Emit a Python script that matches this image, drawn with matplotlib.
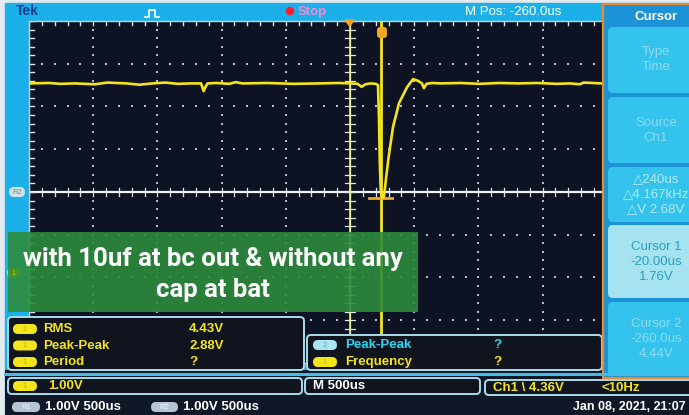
import matplotlib
matplotlib.use("Agg")
import matplotlib.pyplot as plt
from matplotlib.patches import Rectangle, FancyBboxPatch, Polygon

# --- scope settings ---
SEC_PER_DIV_US = 500.0
M_POS_US = -260.0
VOLT_PER_DIV = 1.0
CENTER_V = 1.9          # ch1 ground marker sits 1.9 div under the centre line
CURSOR1_US, CURSOR1_V = -20.0, 1.76
CURSOR2_US, CURSOR2_V = -260.0, 4.44

# --- ch1 trace (us, V) ---
TIME_US = [-2760, -2600, -2519, -2400, -2246, -2150, -2000, -1900, -1800, -1700,
           -1600, -1500, -1420, -1400, -1385, -1370, -1300, -1200, -1150, -1100,
           -900, -700, -500, -350, -260, -200, -170, -140, -100, -60,
           -42, -34, -28, -20, -10, 5, 20, 40, 75, 122,
           184, 231, 270, 300, 316, 335, 380, 450, 600, 750,
           900, 1050, 1200, 1350, 1450, 1530, 1560, 1700, 1900]
CH1_V = [4.44, 4.45, 4.43, 4.44, 4.42, 4.46, 4.44, 4.41, 4.44, 4.46,
         4.43, 4.44, 4.44, 4.26, 4.36, 4.44, 4.45, 4.43, 4.47, 4.44,
         4.45, 4.43, 4.44, 4.45, 4.44, 4.43, 4.36, 4.42, 4.44, 4.43,
         4.40, 3.60, 2.60, 1.90, 1.76, 1.80, 2.20, 2.70, 3.42, 3.98,
         4.35, 4.54, 4.50, 4.44, 4.33, 4.43, 4.45, 4.44, 4.45, 4.43,
         4.45, 4.44, 4.45, 4.43, 4.44, 4.42, 4.46, 4.44, 4.44]

# --- readouts ---
MEAS_ROWS = [("RMS", "4.43V"), ("Peak-Peak", "2.88V"), ("Period", "?")]
MEAS2_ROWS = [("2", "Peak-Peak", "?"), ("1", "Frequency", "?")]
MENU_TITLE = "Cursor"
MENU_ITEMS = [["Type", "Time"], ["Source", "Ch1"],
              ["\u25b3240us", "\u25b34.167kHz", "\u25b3V 2.68V"],
              ["Cursor 1", "-20.00us", "1.76V"],
              ["Cursor 2", "-260.0us", "4.44V"]]
NOTE_LINES = ["with 10uf at bc out & without any", "cap at bat"]

W, H = 689, 415
SCREEN = "#0d1322"
YEL = "#f4e41c"
CYAN_TXT = "#29d6f0"
FONT = ["Liberation Sans", "DejaVu Sans"]

fig = plt.figure(figsize=(W / 100, H / 100), dpi=100, facecolor="#e4eaee")


def px_axes(z):
    a = fig.add_axes([0, 0, 1, 1], zorder=z)
    a.set_xlim(0, W)
    a.set_ylim(H, 0)
    a.axis("off")
    a.patch.set_visible(False)
    return a


bg = px_axes(0)
bg.add_patch(Rectangle((5, 3), W, H, color="#1cb0ea"))

# scope graticule: 10 x 8 divisions
gl, gr, gt, gb = 29, 671, 21, 363
sc = fig.add_axes([gl / W, (H - gb) / H, (gr - gl) / W, (gb - gt) / H], zorder=1)
sc.set_facecolor(SCREEN)
t0 = M_POS_US - 5 * SEC_PER_DIV_US
v0 = CENTER_V - 4 * VOLT_PER_DIV
sc.set_xlim(t0, t0 + 10 * SEC_PER_DIV_US)
sc.set_ylim(v0, v0 + 8 * VOLT_PER_DIV)
sc.set_xticks([])
sc.set_yticks([])
for s in sc.spines.values():
    s.set_color("#c9d0d8")
    s.set_linewidth(1.0)

dot = "#b9bfc8"
minor_t = [t0 + i * SEC_PER_DIV_US / 5 for i in range(51)]
minor_v = [v0 + i * VOLT_PER_DIV / 5 for i in range(41)]
for k in range(1, 10):
    if k == 5:
        continue
    x = t0 + k * SEC_PER_DIV_US
    sc.plot([x] * len(minor_v), minor_v, ls="none", marker="s", ms=1.6, color=dot, mew=0)
for j in range(1, 8):
    if j == 4:
        continue
    y = v0 + j * VOLT_PER_DIV
    sc.plot(minor_t, [y] * len(minor_t), ls="none", marker="s", ms=1.6, color=dot, mew=0)

# centre axes with ticks, border ticks
sc.axhline(CENTER_V, color="#eef2f6", lw=1.6)
sc.axvline(M_POS_US, color="#dfe4ea", lw=1.2)
tk_v = 0.1 * VOLT_PER_DIV
tk_t = 0.1 * SEC_PER_DIV_US * 64 / 42.75 * 0.5
for x in minor_t:
    sc.plot([x, x], [CENTER_V - tk_v, CENTER_V + tk_v], color="#dfe4ea", lw=0.9)
    sc.plot([x, x], [v0 + 8 - tk_v, v0 + 8], color="#dfe4ea", lw=1.0)
for y in minor_v:
    sc.plot([M_POS_US - tk_t, M_POS_US + tk_t], [y, y], color="#dfe4ea", lw=0.9)
    sc.plot([t0, t0 + tk_t], [y, y], color="#dfe4ea", lw=1.0)

# cursors
sc.axvline(CURSOR2_US, color="#e9ec9a", lw=0.9, zorder=3)
sc.axvline(CURSOR1_US, color=YEL, lw=2.0, zorder=4)
sc.plot([CURSOR1_US - 90, CURSOR1_US + 90], [CURSOR1_V] * 2, color="#f0a826", lw=2, zorder=5)

# trace
sc.plot(TIME_US, CH1_V, color=YEL, lw=1.9, zorder=6, solid_joinstyle="round")

ov = px_axes(2)


def panel(x0, y0, x1, y1, fc="#0f141f", ec="#a9dcec"):
    ov.add_patch(FancyBboxPatch((x0, y0), x1 - x0, y1 - y0,
                                boxstyle="round,pad=0,rounding_size=4",
                                fc=fc, ec=ec, lw=1.4))


def pill(x0, x1, yc, fc, label, tc):
    ov.add_patch(FancyBboxPatch((x0, yc - 5), x1 - x0, 10,
                                boxstyle="round,pad=0,rounding_size=5", fc=fc, ec="none"))
    ov.text((x0 + x1) / 2, yc, label, color=tc, fontsize=5.5, ha="center",
            va="center", family=FONT)


def txt(x, y, s, c, size=9.5, bold=True, ha="left"):
    ov.text(x, y, s, color=c, fontsize=size, ha=ha, va="center",
            fontweight="bold" if bold else "normal", family=FONT)


# top bar
txt(16, 11, "Tek", "#183c8c", size=10)
ov.plot([145, 149, 149, 155, 155, 159], [17, 17, 10, 10, 17, 17], color="white", lw=1.2)
ov.add_patch(plt.Circle((290, 11), 3.6, color="#ff1e2e"))
txt(298, 12, "Stop", "#f58ad6", size=9.5)
txt(465, 12, "M Pos: -260.0us", "white", size=9.5, bold=False)

# cursor / trigger markers on the graticule
ov.add_patch(Polygon([[345, 20], [354, 20], [349.5, 26]], closed=True, color="#f2a22a"))
ov.add_patch(FancyBboxPatch((377, 27), 10, 11, boxstyle="round,pad=0,rounding_size=3",
                            fc="#f2a822", ec="none"))

# left markers
pill(9, 25, 192, "#d3e2ea", "R2", "#7a8a96")
pill(7, 21, 273, YEL, "1", "#c8b800")

# note box
ov.add_patch(Rectangle((8, 232), 410, 80, fc="#2d8c3c", alpha=0.9, ec="none"))
for i, line in enumerate(NOTE_LINES):
    ov.text(213, 259 + i * 31, line, color="white", fontsize=18.5, fontweight="bold",
            ha="center", va="center", family=["Roboto", "DejaVu Sans"])

# bottom readouts
ov.add_patch(Rectangle((5, 370), W, 50, fc="#101727", ec="none"))
ov.plot([5, W], [374, 374], color="#45bce6", lw=2.2)
panel(8, 317, 304, 370)
for i, (name, val) in enumerate(MEAS_ROWS):
    y = 329 + i * 16.5
    pill(13, 37, y, YEL, "1", "#c8b800")
    txt(43, y, name, YEL)
    txt(189, y, val, YEL)
panel(307, 335, 602, 370)
for i, (ch, name, val) in enumerate(MEAS2_ROWS):
    y = 345 + i * 17
    c = CYAN_TXT if ch == "2" else YEL
    pill(313, 337, y, "#a9e6f2" if ch == "2" else YEL, ch,
         "#5aa8c0" if ch == "2" else "#c8b800")
    txt(345, y, name, c)
    txt(493, y, val, c)

panel(8, 378, 302, 394)
pill(13, 37, 386, YEL, "1", "#c8b800")
txt(48, 386, "1.00V", YEL)
panel(305, 378, 480, 394)
txt(313, 386, "M 500us", "white")
panel(485, 380, 720, 395)
txt(493, 388, "Ch1 \\ 4.36V", YEL)
txt(602, 388, "<10Hz", YEL)

pill(12, 40, 407, "#b4c6d2", "R1", "#eef4f8")
txt(45, 407, "1.00V 500us", "white")
pill(151, 178, 407, "#b4c6d2", "R2", "#eef4f8")
txt(183, 407, "1.00V 500us", "white")
txt(686, 407, "Jan 08, 2021, 21:07", "white", size=9, ha="right")

# side menu
ov.add_patch(Rectangle((603, 4), 100, 374, fc="#1b93d6", ec="#ec8a2c", lw=1.6))
txt(656, 17, MENU_TITLE, "white", size=9.5, ha="center")
boxes = [(27, 93), (97, 163), (167, 222), (225, 298), (302, 376)]
for i, ((y0, y1), lines) in enumerate(zip(boxes, MENU_ITEMS)):
    sel = i == 3
    ov.add_patch(FancyBboxPatch((608, y0), 95, y1 - y0,
                                boxstyle="round,pad=0,rounding_size=5",
                                fc="#a4e3ef" if sel else "#33c3ec", ec="none"))
    tc = "#2b9fc2" if sel else ("#b4ecf8" if i == 2 else "#8edcf2")
    yc = (y0 + y1) / 2
    n = len(lines)
    for k, s in enumerate(lines):
        txt(656, yc + (k - (n - 1) / 2) * 15, s, tc, size=9.5, bold=False, ha="center")

fig.savefig("out.png", dpi=100, facecolor=fig.get_facecolor())
